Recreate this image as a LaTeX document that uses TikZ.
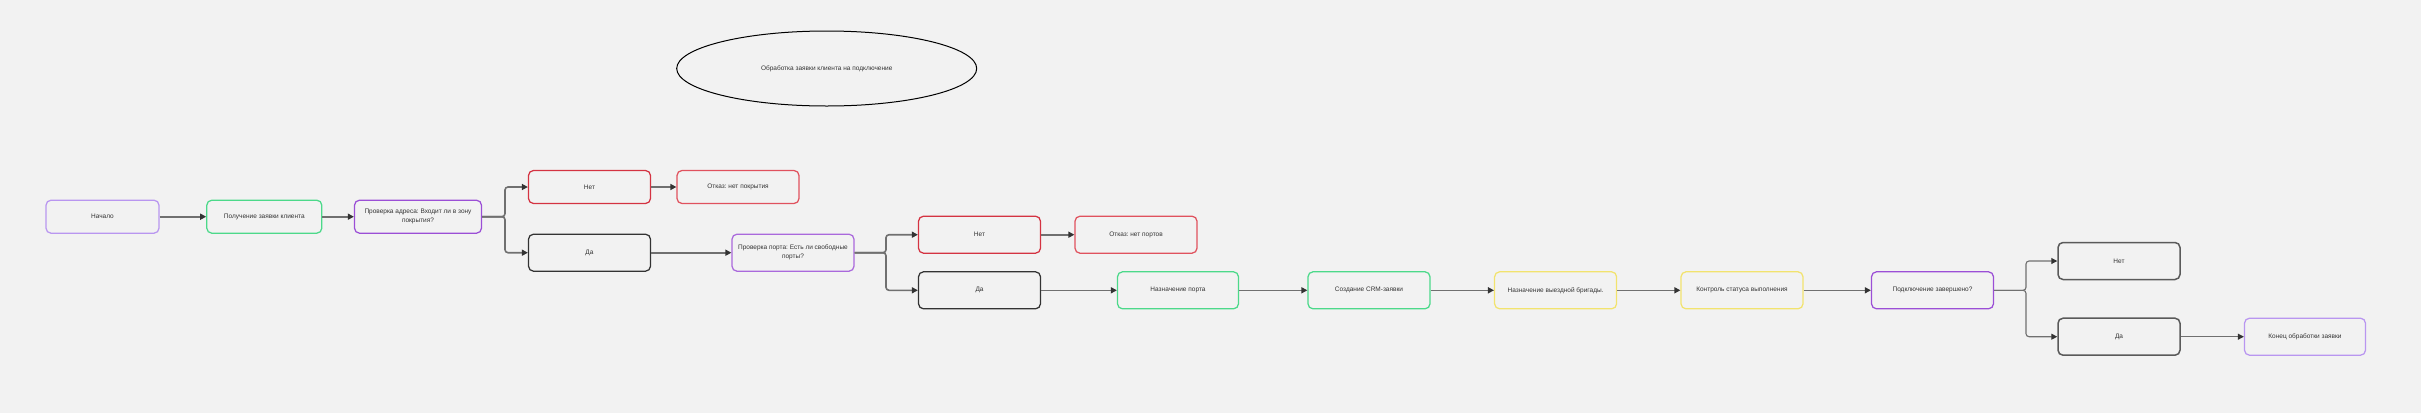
\documentclass[tikz,border=0pt]{standalone}
\usepackage{fontspec}
\setmainfont{Liberation Sans}
\usetikzlibrary{arrows.meta,shapes.geometric}
\definecolor{bg}{HTML}{F2F2F2}
\definecolor{cPurL}{HTML}{B996F0}
\definecolor{cPur}{HTML}{9B4FD6}
\definecolor{cGreen}{HTML}{4CD98A}
\definecolor{cRed}{HTML}{D43342}
\definecolor{cRedL}{HTML}{E0525E}
\definecolor{cDark}{HTML}{333333}
\definecolor{cGray}{HTML}{5A5A5A}
\definecolor{cYel}{HTML}{F2E36E}
\definecolor{cLine}{HTML}{707070}
\definecolor{cTxt}{HTML}{333333}
\tikzset{
  box/.style={draw, rounded corners=5pt, line width=1.25pt, minimum width=122pt, minimum height=37pt,
    align=center, font=\fontsize{6.5}{9}\selectfont, text=cTxt, inner sep=0pt},
  arr/.style={draw=cLine, line width=1.6pt, rounded corners=3pt, -{Triangle[length=6pt,width=6pt,color=cDark]}},
  arrthin/.style={draw=cLine, line width=1.1pt, rounded corners=3pt, -{Triangle[length=6pt,width=6pt,color=cDark]}}
}
\begin{document}
\frenchspacing
\begin{tikzpicture}[x=1pt,y=-1pt]
\fill[bg] (0,0) rectangle (2421,413);
\useasboundingbox (0,0) rectangle (2421,413);

\node[draw=black, line width=1pt, ellipse, minimum width=300pt, minimum height=75pt, font=\fontsize{6.5}{9}\selectfont, text=cTxt] (title) at (826.7,68.5) {Обработка заявки клиента на подключение};

\node[box, draw=cPurL, minimum width=113pt, minimum height=33pt] (start) at (102.5,216.7) {Начало};
\node[box, draw=cGreen, minimum width=115pt, minimum height=33pt] (recv) at (264.3,216.7) {Получение заявки клиента};
\node[box, draw=cPur, minimum width=127pt, minimum height=33pt] (adr) at (418,216.7) {Проверка адреса: Входит ли в зону\\покрытия?};
\node[box, draw=cRed, minimum height=33pt] (net1) at (589.5,187) {Нет};
\node[box, draw=cRedL, minimum height=33pt] (otk1) at (738,187) {Отказ: нет покрытия};
\node[box, draw=cDark] (da1) at (589.5,252.7) {Да};
\node[box, draw=cPur!85] (port) at (793,252.7) {Проверка порта: Есть ли свободные\\порты?};
\node[box, draw=cRed] (net2) at (979.5,234.7) {Нет};
\node[box, draw=cRedL] (otk2) at (1136,234.7) {Отказ: нет портов};
\node[box, draw=cDark] (da2) at (979.5,290.3) {Да};
\node[box, draw=cGreen, minimum width=121pt] (assign) at (1178,290.3) {Назначение порта};
\node[box, draw=cGreen] (crm) at (1369,290.3) {Создание CRM-заявки};
\node[box, draw=cYel] (brig) at (1555.6,290.3) {Назначение выездной бригады.};
\node[box, draw=cYel] (ctrl) at (1742,290.3) {Контроль статуса выполнения};
\node[box, draw=cPur] (done) at (1932.5,290.3) {Подключение завершено?};
\node[box, draw=cGray, line width=1.5pt] (net3) at (2119,261) {Нет};
\node[box, draw=cGray, line width=1.5pt] (da3) at (2119,336.7) {Да};
\node[box, draw=cPurL, minimum width=121pt] (fin) at (2305,336.7) {Конец обработки заявки};

\coordinate (b1) at (505,216.7);
\coordinate (b2) at (886,252.7);
\coordinate (b3) at (2026,290.3);

\draw[arr] (start) -- (recv);
\draw[arr] (recv) -- (adr);
\draw[arr] (adr.east) -- (b1) |- (net1.west);
\draw[arr] (adr.east) -- (b1) |- (da1.west);
\draw[arr] (net1) -- (otk1);
\draw[arr] (da1) -- (port);
\draw[arr] (port.east) -- (b2) |- (net2.west);
\draw[arr] (port.east) -- (b2) |- (da2.west);
\draw[arr] (net2) -- (otk2);
\draw[arr] (da2) -- (assign);
\draw[arr] (assign) -- (crm);
\draw[arr] (crm) -- (brig);
\draw[arr] (brig) -- (ctrl);
\draw[arr] (ctrl) -- (done);
\draw[arrthin] (done.east) -- (b3) |- (net3.west);
\draw[arrthin] (done.east) -- (b3) |- (da3.west);
\draw[arrthin] (da3) -- (fin);
\end{tikzpicture}
\end{document}
